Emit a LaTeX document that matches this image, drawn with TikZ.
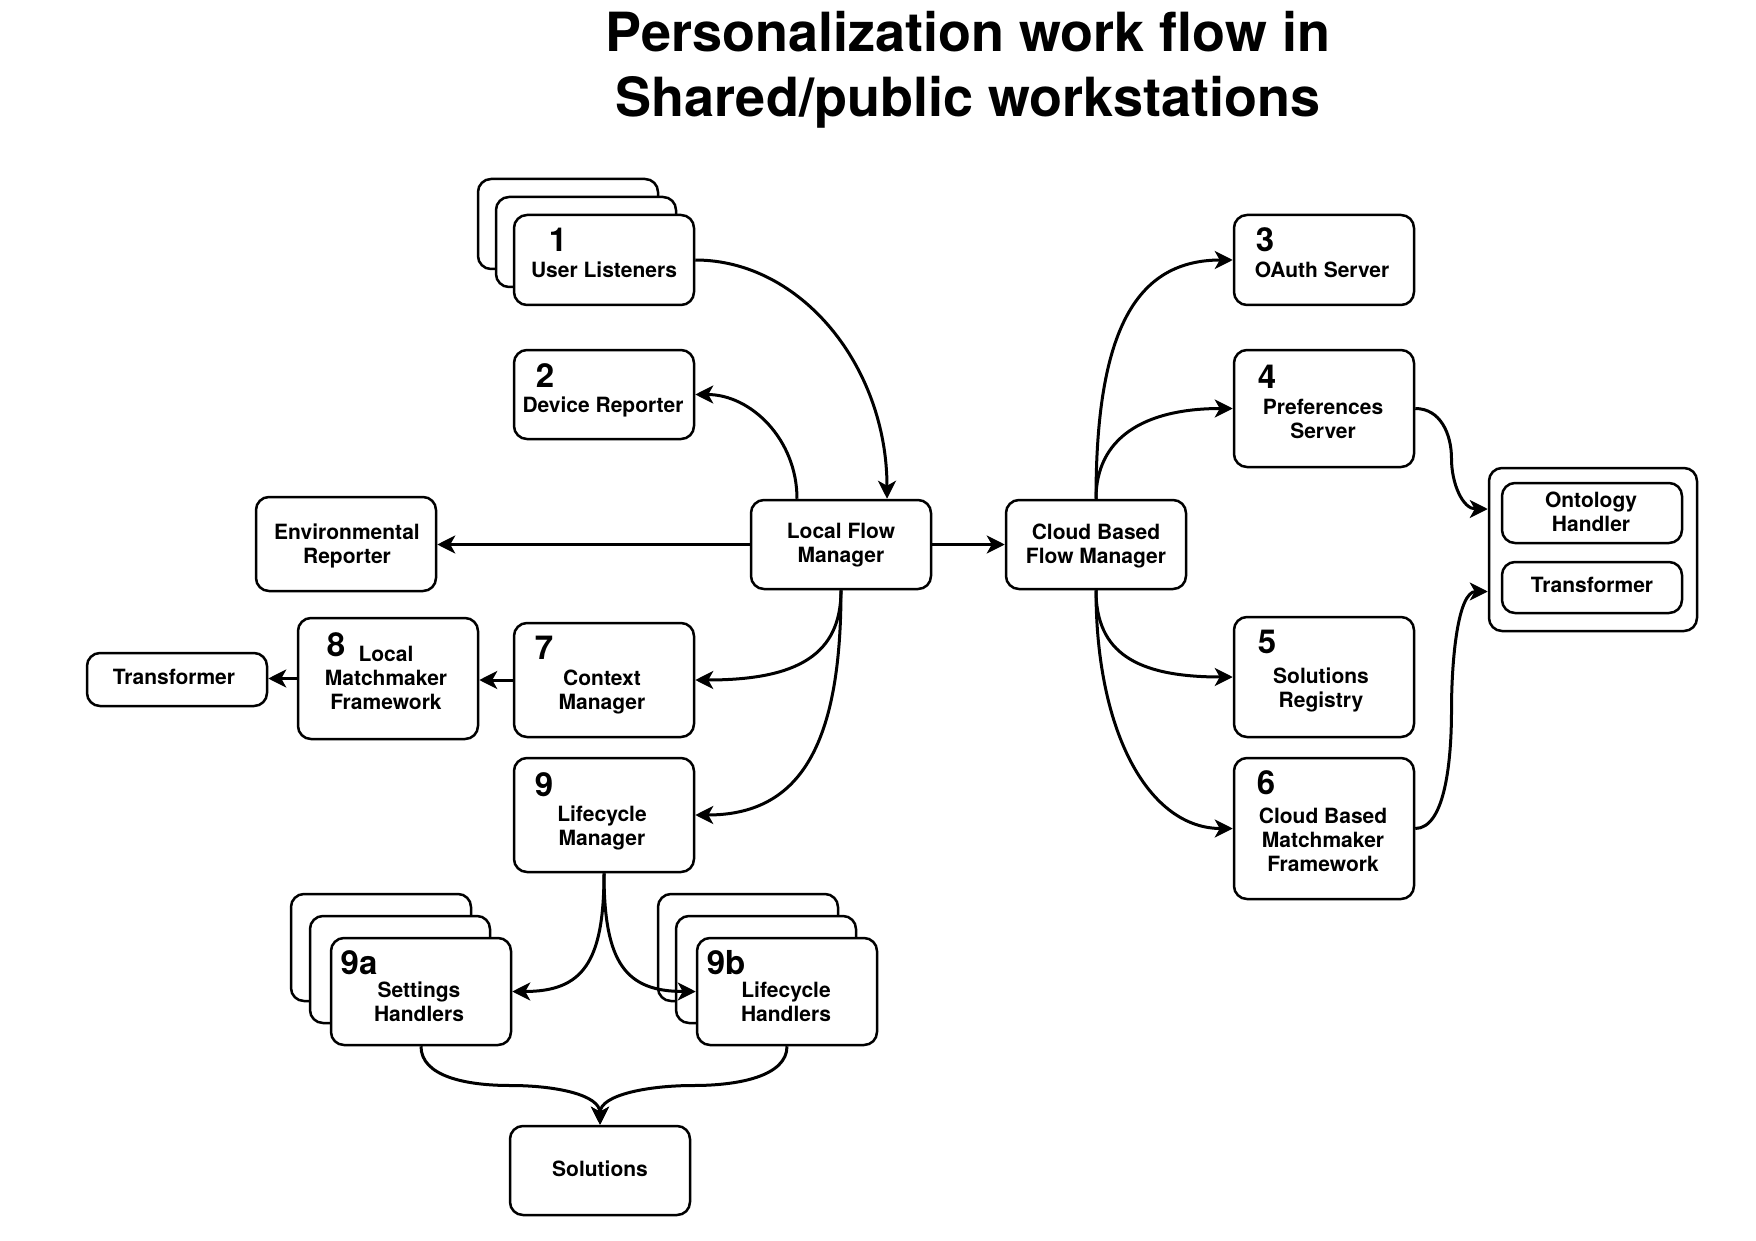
\documentclass[tikz,border=0pt]{standalone}
\usepackage{fontspec}
\setmainfont{TeX Gyre Heros}
\usetikzlibrary{arrows.meta,calc}
\begin{document}
\begin{tikzpicture}[x=1pt,y=-1pt,
  box/.style={draw, line width=2.5pt, rounded corners=13pt, fill=white, inner sep=0pt},
  wh/.style 2 args={minimum width=#1pt, minimum height=#2pt},
  lbl/.style={font=\bfseries\fontsize{21}{24}\selectfont, align=center, inner sep=0pt},
  dsc/.style={yshift=-2.5pt},
  num/.style={font=\bfseries\fontsize{33}{36}\selectfont, inner sep=0pt},
  ttl/.style={font=\bfseries\fontsize{54}{65}\selectfont, align=center, inner sep=0pt},
  conn/.style={line width=3pt, -{Stealth[length=18pt,width=18pt,inset=5pt]}},
]
\useasboundingbox[fill=white] (0,0) rectangle (1756,1241);

% title
\node[ttl] (title) at (968,70) {Personalization work flow in\\Shared/public workstations};

% 1 User Listeners (stack)
\node[box, wh={180}{90}] (ulb) at (568,224) {};
\node[box, wh={180}{90}] (ulm) at (586,242) {};
\node[box, wh={180}{90}] (ul) at (604,260) {};
\node[num] (n1) at (558,240) {1};
\node[lbl] (t1) at (604,270) {User Listeners};

% 2 Device Reporter
\node[box, wh={180}{89}] (dr) at (604,394.5) {};
\node[num] (n2) at (545,376) {2};
\node[lbl, yshift=-1pt] (t2) at (603,406) {Device Reporter};

% Local Flow Manager
\node[box, wh={180}{89}] (lfm) at (841,544.5) {};
\node[lbl, dsc] (tlfm) at (841,543) {Local Flow\\Manager};

% Environmental Reporter
\node[box, wh={180}{94}] (env) at (346,544) {};
\node[lbl, dsc] (tenv) at (347,543) {Environmental\\Reporter};

% Cloud Based Flow Manager
\node[box, wh={180}{89}] (cbfm) at (1096,544.5) {};
\node[lbl, dsc] (tcbfm) at (1096,544) {Cloud Based\\Flow Manager};

% 3 OAuth Server
\node[box, wh={180}{90}] (oa) at (1324,260) {};
\node[num] (n3) at (1265,240) {3};
\node[lbl] (t3) at (1322,270) {OAuth Server};

% 4 Preferences Server
\node[box, wh={180}{117}] (ps) at (1324,408.5) {};
\node[num] (n4) at (1267,377) {4};
\node[lbl] (t4) at (1323,419) {Preferences\\Server};

% 5 Solutions Registry
\node[box, wh={180}{120}] (sr) at (1324,677) {};
\node[num] (n5) at (1267,642) {5};
\node[lbl, dsc] (t5) at (1321,687.5) {Solutions\\Registry};

% 6 Cloud Based Matchmaker Framework
\node[box, wh={180}{141}] (cmm) at (1324,828.5) {};
\node[num] (n6) at (1266,783) {6};
\node[lbl] (t6) at (1323,840) {Cloud Based\\Matchmaker\\Framework};

% Ontology container
\node[box, wh={208}{163}] (cont) at (1593,549.5) {};
\node[box, wh={180}{60}] (oh) at (1592,513) {};
\node[lbl] (toh) at (1591,511.5) {Ontology\\Handler};
\node[box, wh={180}{51}] (trr) at (1592,587.5) {};
\node[lbl] (ttrr) at (1592,585) {Transformer};

% 7 Context Manager
\node[box, wh={180}{114}] (cm) at (604,680) {};
\node[num] (n7) at (544,648) {7};
\node[lbl, dsc] (t7) at (602,690) {Context\\Manager};

% 8 Local Matchmaker Framework
\node[box, wh={180}{121}] (lmf) at (388,678.5) {};
\node[num] (n8) at (336,645) {8};
\node[lbl] (t8) at (386,678) {Local\\Matchmaker\\Framework};

% Transformer (left)
\node[box, wh={180}{53}] (trl) at (177,679.5) {};
\node[lbl] (ttrl) at (174,677) {Transformer};

% 9 Lifecycle Manager
\node[box, wh={180}{114}] (lm) at (604,815) {};
\node[num] (n9) at (544,785) {9};
\node[lbl, dsc] (t9) at (602,825) {Lifecycle\\Manager};

% 9a Settings Handlers (stack)
\node[box, wh={180}{107}] (shb) at (381,947.5) {};
\node[box, wh={180}{107}] (shm) at (400,969.5) {};
\node[box, wh={180}{107}] (sh) at (421,991.5) {};
\node[num] (n9a) at (359,963) {9a};
\node[lbl] (t9a) at (419,1002) {Settings\\Handlers};

% 9b Lifecycle Handlers (stack)
\node[box, wh={180}{107}] (lhb) at (748,947.5) {};
\node[box, wh={180}{107}] (lhm) at (766,969.5) {};
\node[box, wh={180}{107}] (lh) at (787,991.5) {};
\node[num] (n9b) at (726,963) {9b};
\node[lbl] (t9b) at (786,1002) {Lifecycle\\Handlers};

% Solutions
\node[box, wh={180}{89}] (sol) at (600,1170.5) {};
\node[lbl, yshift=-1pt] (tsol) at (600,1168) {Solutions};

% connectors
\draw[conn] (ul.east) .. controls +(106,0) and +(0,-132) .. ([xshift=46pt]lfm.north);
\draw[conn] ([xshift=-44pt]lfm.north) .. controls +(0,-59) and +(56,0) .. (dr.east);
\draw[conn] (lfm.west) -- (lfm.west -| env.east);
\draw[conn] (lfm.east) -- (cbfm.west);
\draw[conn] (lfm.south) .. controls +(0,64) and +(103,0) .. (cm.east);
\draw[conn] (lfm.south) .. controls +(0,158) and +(103,0) .. (lm.east);
\draw[conn] (cm.west) -- (cm.west -| lmf.east);
\draw[conn] (lmf.west) -- (lmf.west -| trl.east);
\draw[conn] (lm.south) .. controls +(0,90) and +(70,0) .. (sh.east);
\draw[conn] (lm.south) .. controls +(0,90) and +(-70,0) .. (lh.west);
\draw[conn] (sh.south) .. controls +(0,30) and +(-45,0) .. ($(sh.south)!.5!(sol.north)$) .. controls +(45,0) and +(0,-30) .. (sol.north);
\draw[conn] (lh.south) .. controls +(0,30) and +(45,0) .. ($(lh.south)!.5!(sol.north)$) .. controls +(-45,0) and +(0,-30) .. (sol.north);
\draw[conn] (cbfm.north) .. controls +(0,-168) and +(-97,0) .. (oa.west);
\draw[conn] (cbfm.north) .. controls +(0,-60) and +(-90,0) .. (ps.west);
\draw[conn] (cbfm.south) .. controls +(0,62) and +(-97,0) .. (sr.west);
\draw[conn] (cbfm.south) .. controls +(0,144) and +(-83,0) .. (cmm.west);
\draw[conn] (ps.east) .. controls +(25,0) and +(0,-25) .. ($(ps.east)!.5!([yshift=40.5pt]cont.west)$) .. controls +(0,25) and +(-25,0) .. ([yshift=40.5pt]cont.west);
\draw[conn] (cmm.east) .. controls +(30,0) and +(0,50) .. ($(cmm.east)!.5!([yshift=-42pt]cont.west)$) .. controls +(0,-50) and +(-30,0) .. ([yshift=-42pt]cont.west);
\end{tikzpicture}
\end{document}
